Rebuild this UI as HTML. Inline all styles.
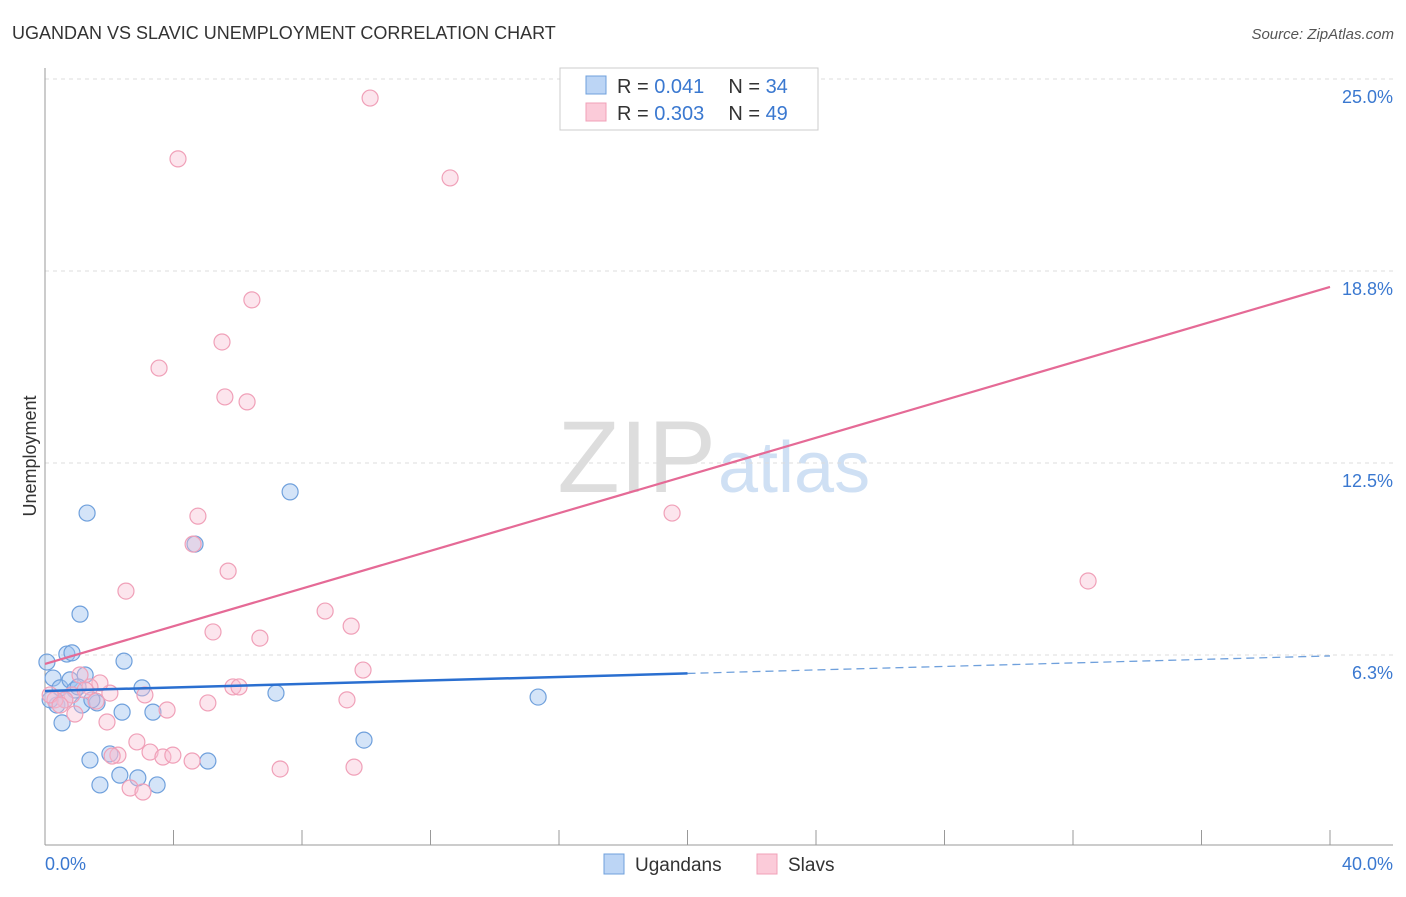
<!DOCTYPE html>
<html><head><meta charset="utf-8"><style>
body{margin:0;background:#fff;font-family:"Liberation Sans",sans-serif}
svg text{font-family:"Liberation Sans",sans-serif}
</style></head><body>
<svg id="c" width="1406" height="892">
<text x="12" y="39" font-size="18" fill="#333">UGANDAN VS SLAVIC UNEMPLOYMENT CORRELATION CHART</text>
<text x="1394" y="39" font-size="15" fill="#555" text-anchor="end" font-style="italic">Source: ZipAtlas.com</text>
<text x="36" y="456" font-size="18" fill="#333" transform="rotate(-90 36 456)" text-anchor="middle">Unemployment</text>
<text x="716" y="492" font-size="102" fill="#ddd" text-anchor="end" font-family="Liberation Serif">ZIP</text>
<text x="718" y="492" font-size="72" fill="#cfe0f4">atlas</text>
<g id="grid"></g><g id="marks"></g>
<g>
<rect x="560" y="68" width="258" height="62" fill="#fff" stroke="#ccc"/>
<rect x="586" y="76" width="20" height="18" fill="#bcd5f5" stroke="#6fa0dc"/>
<rect x="586" y="103" width="20" height="18" fill="#fbcbd9" stroke="#f0a0b8"/>
<text x="617" y="93" font-size="20" fill="#333">R = <tspan fill="#3a78d0">0.041</tspan><tspan dx="24">N = </tspan><tspan fill="#3a78d0">34</tspan></text>
<text x="617" y="120" font-size="20" fill="#333">R = <tspan fill="#3a78d0">0.303</tspan><tspan dx="24">N = </tspan><tspan fill="#3a78d0">49</tspan></text>
</g>
<g>
<rect x="604" y="854" width="20" height="20" fill="#bcd5f5" stroke="#6fa0dc"/>
<text x="635" y="871" font-size="19" fill="#333">Ugandans</text>
<rect x="757" y="854" width="20" height="20" fill="#fbcbd9" stroke="#f0a0b8"/>
<text x="788" y="871" font-size="19" fill="#333">Slavs</text>
</g>
</svg>
<script>
const yTicks=[25,18.75,12.5,6.25];
const yTickLabels=["25.0%","18.8%","12.5%","6.3%"];
const xTickLabels=["0.0%","40.0%"];
const ugX=[.06,.25,.37,.53,.47,.68,.84,.78,.93,1.09,1.25,1.31,1.15,1.40,1.62,1.71,2.02,2.33,2.40,2.46,2.89,3.02,3.36,3.49,4.67,5.07,7.19,7.63,9.93,15.35,.16,.62,1.03,1.46];
const ugY=[6.02,5.50,4.62,4.04,5.18,6.28,6.32,5.44,5.11,7.58,5.60,10.87,4.62,2.83,4.69,2.02,3.03,2.34,4.39,6.05,2.25,5.18,4.39,2.02,9.86,2.80,5.01,11.56,3.48,4.88,4.79,4.79,5.21,4.79];
const slX=[10.12,4.14,12.61,6.44,5.51,3.55,5.60,6.29,4.76,19.52,4.61,5.70,2.52,32.47,8.72,9.53,5.23,6.69,9.90,5.85,6.04,9.40,5.07,3.80,3.11,2.02,1.71,1.40,1.09,.84,.62,.31,.16,.93,1.93,2.27,2.86,3.27,3.67,3.98,4.58,7.32,9.62,2.65,3.05,.47,1.25,1.59,2.09];
const slY=[24.38,22.40,21.78,17.81,16.44,15.59,14.65,14.49,10.77,10.87,9.86,8.98,8.33,8.66,7.68,7.19,7.00,6.80,5.76,5.21,5.21,4.79,4.69,4.46,4.95,5.01,5.34,5.21,5.60,4.95,4.79,4.79,4.95,4.33,4.07,2.99,3.42,3.09,2.93,2.99,2.80,2.54,2.60,1.92,1.79,4.62,5.11,4.75,2.96];
const ugTrend=[5.08,6.22];
const slTrend=[5.96,18.23];
const X=v=>45+v*32.125, Y=v=>847-v*30.72;
const NS="http://www.w3.org/2000/svg";
function mk(t,a,p){const e=document.createElementNS(NS,t);for(const k in a)e.setAttribute(k,a[k]);p.appendChild(e);return e;}
const g=document.getElementById('grid'), m=document.getElementById('marks');
yTicks.forEach((t,i)=>{
 const l=mk('line',{x1:45,x2:1393,y1:Y(t),y2:Y(t),stroke:'#ddd','stroke-dasharray':'4 4'},g);
 
 
 const tx=mk('text',{x:1393,y:Y(t)+24,'font-size':18,fill:'#3a78d0','text-anchor':'end'},g);tx.textContent=yTickLabels[i];
 
 
});
mk('line',{x1:45,x2:45,y1:68,y2:845,stroke:'#999'},g);
mk('line',{x1:45,x2:1393,y1:845,y2:845,stroke:'#999'},g);
for(let i=0;i<=10;i++){const t=mk('line',{x1:X(i*4),x2:X(i*4),y1:830,y2:845,stroke:'#999'},g);
 
 }
[[0,'start',45],[40,'end',1393]].forEach((d,i)=>{const tx=mk('text',{x:d[2],y:870,'font-size':18,fill:'#3a78d0','text-anchor':d[1]},g);tx.textContent=xTickLabels[i];
 
 });
ugX.forEach((x,i)=>{const c=mk('circle',{cx:X(x),cy:Y(ugY[i]),r:8,fill:'rgba(160,196,240,0.45)',stroke:'#6fa0dc','stroke-width':1.2},m);
 
 });
slX.forEach((x,i)=>{const c=mk('circle',{cx:X(x),cy:Y(slY[i]),r:8,fill:'rgba(248,190,210,0.4)',stroke:'#f0a0b8','stroke-width':1.2},m);
 
 });
const ug=v=>ugTrend[0]+(ugTrend[1]-ugTrend[0])*v/40;
let l1=mk('line',{x1:X(0),y1:Y(ug(0)),x2:X(20),y2:Y(ug(20)),stroke:'#2a6fd0','stroke-width':2.5},m);


let l2=mk('line',{x1:X(20),y1:Y(ug(20)),x2:X(40),y2:Y(ug(40)),stroke:'#6fa0dc','stroke-width':1.3,'stroke-dasharray':'8 5'},m);


let l3=mk('line',{x1:X(0),y1:Y(slTrend[0]),x2:X(40),y2:Y(slTrend[1]),stroke:'#e56a96','stroke-width':2.2},m);


</script>
</body></html>
